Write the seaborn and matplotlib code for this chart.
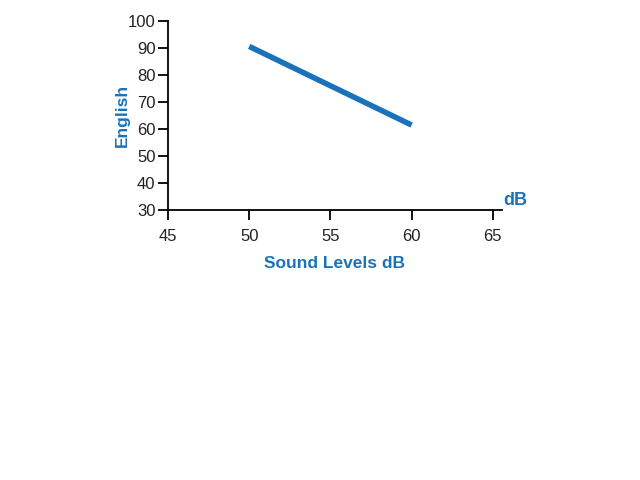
import matplotlib
matplotlib.use('Agg')
import matplotlib.pyplot as plt
import seaborn as sns
import pandas as pd

# Data
sound_db = [50, 60]
english = [90.5, 61.5]

x_ticks = [45, 50, 55, 60, 65]
y_ticks = [30, 40, 50, 60, 70, 80, 90, 100]

BLUE = '#1a73ba'

sns.set_style('white')
plt.rcParams['font.family'] = ['Liberation Sans Narrow', 'Liberation Sans', 'DejaVu Sans']

df = pd.DataFrame({'Sound Levels dB': sound_db, 'English': english})

fig = plt.figure(figsize=(6.4, 4.8), dpi=100)
ax = fig.add_axes([0.2625, 0.5615, 0.5215, 0.3955])

sns.lineplot(data=df, x='Sound Levels dB', y='English', ax=ax,
             color=BLUE, linewidth=4, solid_capstyle='butt')

ax.set_xlim(45, 65.55)
ax.set_ylim(30, 100)
ax.set_xticks(x_ticks)
ax.set_yticks(y_ticks)

for side in ['top', 'right']:
    ax.spines[side].set_visible(False)
for side in ['left', 'bottom']:
    ax.spines[side].set_color('black')
    ax.spines[side].set_linewidth(1.3)

ax.tick_params(axis='both', direction='out', length=7, width=1.3,
               bottom=True, left=True,
               color='black', labelsize=12, labelcolor='#222222', pad=2)
ax.tick_params(axis='x', pad=6)

ax.set_xlabel('Sound Levels dB', color=BLUE, fontsize=12.5, fontweight='bold',
              family=['Liberation Sans', 'DejaVu Sans'], labelpad=9)
ax.set_ylabel('English', color=BLUE, fontsize=12.5, fontweight='bold',
              family=['Liberation Sans', 'DejaVu Sans'])
ax.yaxis.set_label_coords(-0.115, 0.5)

# unit label at the end of the x axis
ax.text(1.005, 0.01, 'dB', transform=ax.transAxes, color=BLUE,
        fontsize=13, fontweight='bold', ha='left', va='bottom',
        family=['Liberation Sans', 'DejaVu Sans'])

fig.savefig('out.png', dpi=100)
